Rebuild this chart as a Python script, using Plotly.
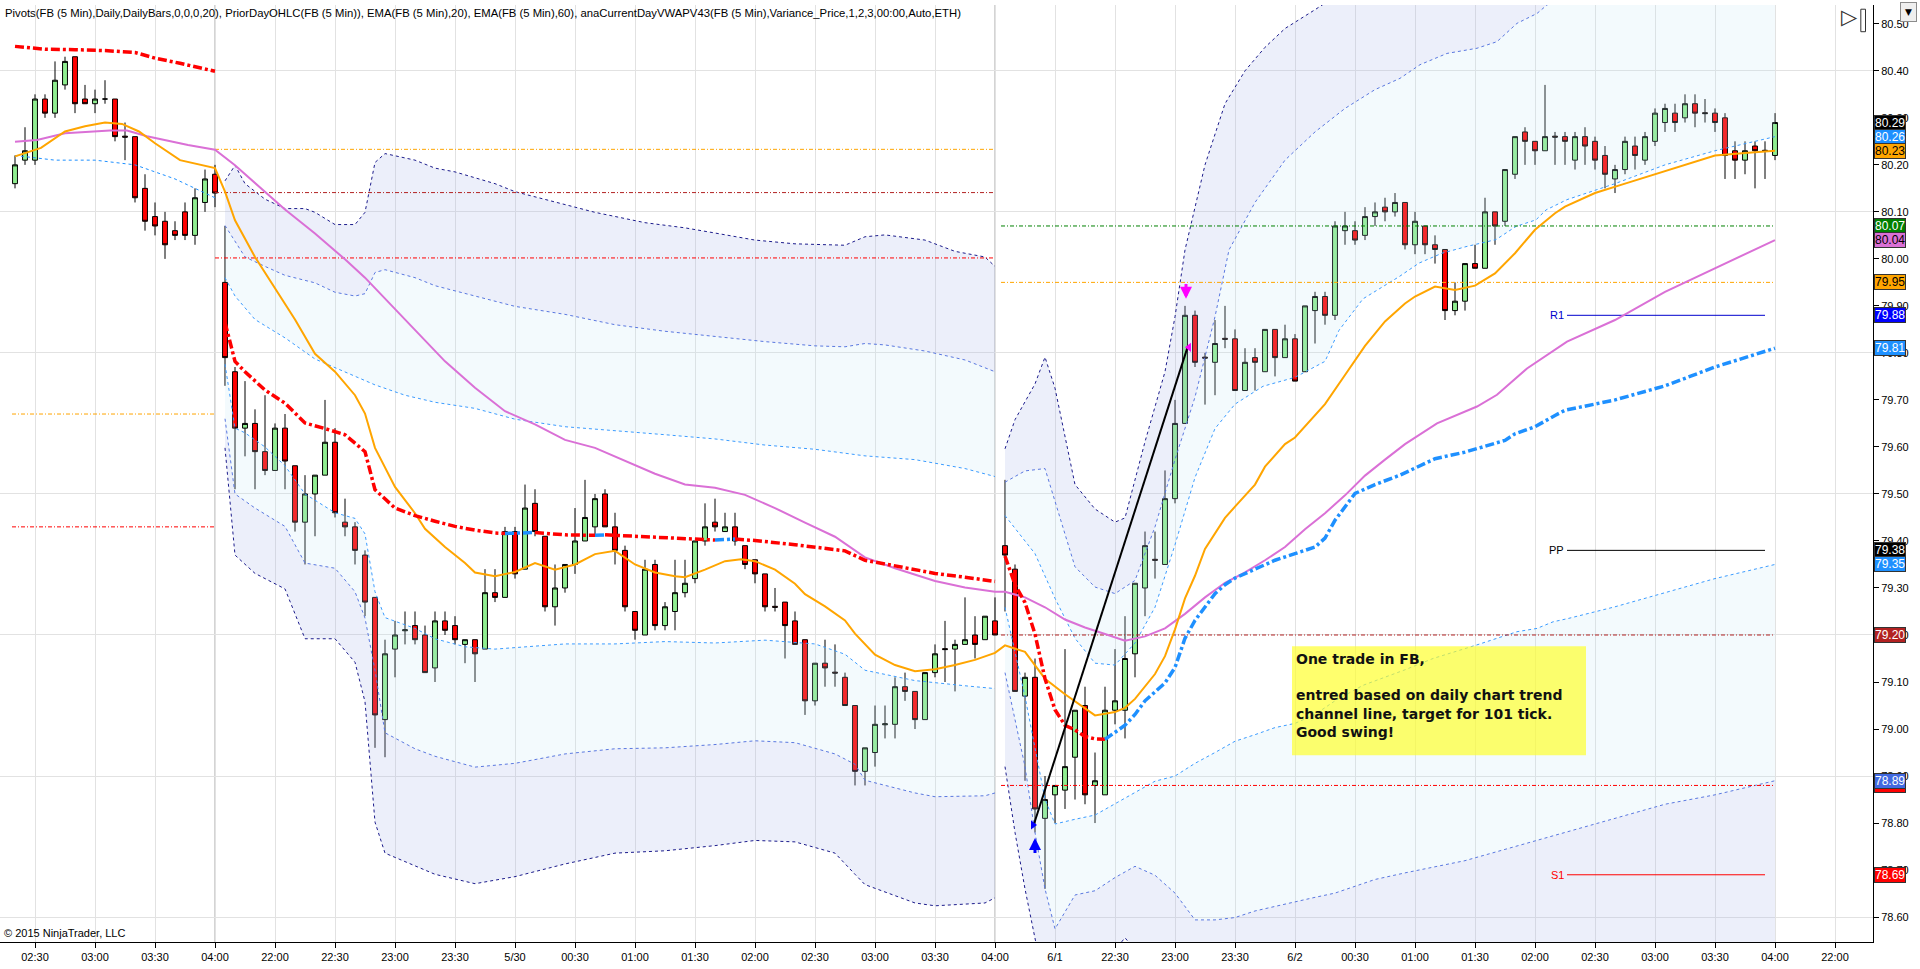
import plotly.graph_objects as go

# ---------------- 5 min bars of FB (bar number on the x axis) ----------------
bar_no = list(range(177))
opens = [
    80.16, 80.21, 80.21, 80.34, 80.31, 80.37, 80.43, 80.34, 80.33, 80.34, 80.34, 80.261, 80.26, 80.15, 80.09, 80.08, 80.06, 80.10, 80.05, 80.12, 80.18,
    79.95, 79.76, 79.64, 79.65, 79.59, 79.55, 79.64, 79.56, 79.44, 79.50, 79.54, 79.61, 79.44, 79.43, 79.37, 79.28, 79.02, 79.17, 79.209, 79.22,
    79.20, 79.13, 79.23, 79.22, 79.18, 79.19, 79.17, 79.29, 79.28, 79.42, 79.34, 79.48, 79.41, 79.26, 79.30, 79.35, 79.40, 79.43, 79.50, 79.43,
    79.38, 79.25, 79.20, 79.35, 79.22, 79.25, 79.29, 79.32, 79.40, 79.44, 79.42, 79.43, 79.39, 79.36, 79.33, 79.261, 79.27, 79.23, 79.19, 79.06,
    79.14, 79.121, 79.11, 79.05, 78.91, 78.95, 79.009, 79.01, 79.09, 79.08, 79.02, 79.12, 79.171, 79.17, 79.18, 79.20, 79.19, 79.23,
    79.39, 79.34, 79.07, 79.11, 78.81, 78.86, 78.87, 78.94, 79.05, 78.88, 78.86, 79.04, 79.04, 79.16, 79.30, 79.361, 79.35, 79.49, 79.65, 79.88,
    79.791, 79.78, 79.831, 79.83, 79.72, 79.79, 79.76, 79.85, 79.79, 79.83, 79.76, 79.89, 79.92, 79.88, 80.06, 80.06, 80.05, 80.09, 80.11, 80.10,
    80.12, 80.03, 80.07, 80.03, 80.02, 79.89, 79.91, 79.99, 79.98, 80.10, 80.08, 80.18, 80.27, 80.25, 80.23, 80.261, 80.26,
    80.21, 80.26, 80.25, 80.22, 80.17, 80.19, 80.24, 80.21, 80.25, 80.29, 80.31, 80.30, 80.33, 80.311, 80.31, 80.30, 80.23, 80.21, 80.24, 80.231, 80.22,
]
highs = [
    80.22, 80.28, 80.35, 80.35, 80.42, 80.43, 80.43, 80.37, 80.36, 80.38, 80.34, 80.29, 80.26, 80.18, 80.12, 80.10, 80.08, 80.12, 80.15, 80.19, 80.20,
    80.07, 79.77, 79.74, 79.68, 79.71, 79.65, 79.67, 79.56, 79.54, 79.54, 79.70, 79.64, 79.49, 79.44, 79.38, 79.28, 79.19, 79.23, 79.25, 79.25,
    79.22, 79.25, 79.25, 79.24, 79.19, 79.19, 79.34, 79.34, 79.43, 79.43, 79.52, 79.51, 79.41, 79.35, 79.35, 79.47, 79.53, 79.50, 79.51, 79.46,
    79.39, 79.25, 79.36, 79.36, 79.27, 79.36, 79.36, 79.40, 79.48, 79.49, 79.46, 79.46, 79.39, 79.36, 79.33, 79.30, 79.27, 79.25, 79.19, 79.14,
    79.19, 79.18, 79.12, 79.05, 78.96, 79.05, 79.05, 79.11, 79.12, 79.08, 79.12, 79.18, 79.23, 79.19, 79.28, 79.24, 79.24, 79.28,
    79.53, 79.35, 79.12, 79.15, 78.90, 78.88, 79.17, 79.04, 79.09, 78.95, 79.09, 79.17, 79.24, 79.31, 79.42, 79.42, 79.55, 79.70, 79.90, 79.89,
    79.80, 79.87, 79.90, 79.85, 79.81, 79.81, 79.85, 79.85, 79.86, 79.84, 79.90, 79.93, 79.93, 80.08, 80.10, 80.08, 80.11, 80.12, 80.13, 80.14,
    80.12, 80.10, 80.07, 80.05, 80.02, 79.95, 79.99, 80.03, 80.13, 80.10, 80.19, 80.26, 80.28, 80.25, 80.37, 80.27, 80.27,
    80.27, 80.28, 80.26, 80.24, 80.20, 80.26, 80.26, 80.27, 80.32, 80.33, 80.33, 80.35, 80.35, 80.34, 80.32, 80.31, 80.25, 80.25, 80.25, 80.25, 80.31,
]
lows = [
    80.15, 80.20, 80.20, 80.30, 80.30, 80.36, 80.31, 80.33, 80.31, 80.33, 80.25, 80.21, 80.12, 80.06, 80.05, 80.00, 80.04, 80.04, 80.03, 80.10, 80.11,
    79.73, 79.51, 79.58, 79.51, 79.54, 79.55, 79.51, 79.42, 79.35, 79.41, 79.54, 79.45, 79.41, 79.35, 79.24, 78.96, 78.94, 79.11, 79.18, 79.18,
    79.12, 79.10, 79.20, 79.18, 79.14, 79.10, 79.17, 79.27, 79.28, 79.32, 79.34, 79.41, 79.25, 79.22, 79.29, 79.33, 79.40, 79.41, 79.43, 79.35,
    79.25, 79.19, 79.20, 79.21, 79.21, 79.21, 79.28, 79.31, 79.39, 79.42, 79.42, 79.39, 79.34, 79.31, 79.25, 79.25, 79.15, 79.18, 79.03, 79.05,
    79.09, 79.09, 79.05, 78.88, 78.88, 78.92, 78.98, 78.98, 79.06, 79.00, 79.02, 79.11, 79.10, 79.08, 79.18, 79.15, 79.19, 79.20,
    79.25, 79.08, 78.89, 78.78, 78.66, 78.80, 78.83, 78.85, 78.84, 78.80, 78.86, 79.01, 78.98, 79.11, 79.24, 79.32, 79.35, 79.48, 79.65, 79.77,
    79.69, 79.71, 79.81, 79.72, 79.72, 79.72, 79.76, 79.75, 79.79, 79.74, 79.76, 79.82, 79.86, 79.87, 80.03, 80.03, 80.04, 80.07, 80.08, 80.09,
    80.02, 80.01, 80.01, 79.99, 79.87, 79.88, 79.89, 79.98, 79.98, 80.03, 80.07, 80.17, 80.20, 80.20, 80.23, 80.20, 80.20,
    80.19, 80.20, 80.19, 80.15, 80.14, 80.18, 80.19, 80.20, 80.24, 80.27, 80.27, 80.29, 80.28, 80.29, 80.27, 80.17, 80.17, 80.18, 80.15, 80.17, 80.21,
]
closes = [
    80.20, 80.23, 80.34, 80.31, 80.38, 80.42, 80.33, 80.33, 80.34, 80.34, 80.26, 80.259, 80.13, 80.08, 80.07, 80.03, 80.05, 80.05, 80.13, 80.17, 80.14,
    79.79, 79.64, 79.65, 79.59, 79.55, 79.64, 79.57, 79.44, 79.50, 79.54, 79.61, 79.46, 79.43, 79.38, 79.27, 79.03, 79.16, 79.20, 79.211, 79.19,
    79.12, 79.23, 79.21, 79.19, 79.19, 79.16, 79.29, 79.28, 79.42, 79.33, 79.47, 79.42, 79.26, 79.30, 79.35, 79.40, 79.45, 79.49, 79.43, 79.38,
    79.26, 79.21, 79.34, 79.22, 79.26, 79.29, 79.31, 79.40, 79.43, 79.43, 79.43, 79.40, 79.35, 79.33, 79.26, 79.259, 79.22, 79.18, 79.06, 79.14,
    79.13, 79.119, 79.05, 78.91, 78.96, 79.01, 79.011, 79.09, 79.08, 79.02, 79.12, 79.16, 79.169, 79.18, 79.19, 79.18, 79.24, 79.20,
    79.37, 79.08, 79.11, 78.83, 78.85, 78.88, 78.92, 79.04, 78.86, 78.89, 79.04, 79.06, 79.15, 79.31, 79.39, 79.359, 79.49, 79.65, 79.88, 79.78,
    79.789, 79.82, 79.829, 79.72, 79.78, 79.78, 79.85, 79.79, 79.83, 79.74, 79.90, 79.92, 79.88, 80.07, 80.07, 80.04, 80.09, 80.10, 80.10, 80.12,
    80.03, 80.08, 80.03, 80.02, 79.89, 79.91, 79.99, 79.98, 80.10, 80.07, 80.19, 80.26, 80.25, 80.23, 80.26, 80.259, 80.25,
    80.26, 80.24, 80.21, 80.18, 80.19, 80.25, 80.22, 80.26, 80.31, 80.32, 80.29, 80.33, 80.31, 80.309, 80.29, 80.22, 80.21, 80.23, 80.23, 80.229, 80.29,
]

# ---------------- time axis ----------------
tick_bars = [2, 8, 14, 20, 26, 32, 38, 44, 50, 56, 62, 68, 74, 80, 86, 92, 98, 104, 110, 116, 122, 128, 134, 140, 146, 152, 158, 164, 170, 176, 182]
tick_text = ["02:30", "03:00", "03:30", "04:00", "22:00", "22:30", "23:00", "23:30", "5/30", "00:30", "01:00", "01:30", "02:00", "02:30", "03:00",
             "03:30", "04:00", "6/1", "22:30", "23:00", "23:30", "6/2", "00:30", "01:00", "01:30", "02:00", "02:30", "03:00", "03:30", "04:00", "22:00"]
session_breaks = [20, 98]

# ---------------- EMA(20) and EMA(60) ----------------
ema20_x = [0, 2.6, 5, 7, 9, 10.7, 12.4, 14, 16.5, 20, 21, 22, 24, 26, 28, 30, 32, 34, 35, 36, 38, 40, 41, 43, 45, 46, 48, 50, 52, 54, 56, 58, 60, 62,
           64, 66, 67, 69, 71, 72.6, 74, 76, 78, 79, 81, 83, 84, 86, 88, 90, 92, 94, 96, 98, 99, 101, 103, 105, 107, 108, 110, 111, 112, 114, 115,
           116, 117, 118, 119, 121, 122, 124, 125, 127, 128, 130, 131, 133, 135, 137, 139, 140, 142, 144, 146, 148, 150, 152, 154, 155, 158, 161,
           164, 167, 170, 173, 176]
ema20_y = [80.218, 80.236, 80.271, 80.282, 80.290, 80.287, 80.271, 80.246, 80.210, 80.193, 80.143, 80.082, 80.004, 79.938, 79.871, 79.798, 79.760,
           79.710, 79.671, 79.598, 79.515, 79.459, 79.426, 79.387, 79.353, 79.333, 79.325, 79.334, 79.353, 79.339, 79.350, 79.372, 79.379, 79.350,
           79.333, 79.325, 79.323, 79.339, 79.357, 79.361, 79.357, 79.339, 79.309, 79.287, 79.261, 79.231, 79.203, 79.158, 79.136, 79.123, 79.127,
           79.136, 79.147, 79.162, 79.178, 79.164, 79.107, 79.074, 79.045, 79.029, 79.036, 79.045, 79.064, 79.117, 79.155, 79.212, 79.278, 79.326,
           79.383, 79.449, 79.473, 79.520, 79.558, 79.606, 79.620, 79.668, 79.691, 79.753, 79.815, 79.867, 79.905, 79.920, 79.941, 79.934, 79.943,
           79.969, 80.012, 80.062, 80.097, 80.111, 80.14, 80.16, 80.18, 80.20, 80.22, 80.225, 80.23]
ema60_x = [0, 2.2, 5, 9.5, 11.2, 13.2, 17.3, 20, 22, 25, 27, 30, 33, 35, 37, 40, 43, 46, 49, 52, 55, 58, 61, 64, 67, 70, 73, 76, 79, 82, 85, 88, 92,
           95, 98, 99, 101, 103, 105, 107, 109, 111, 113, 115, 117, 119, 121, 123, 125, 127, 129, 131, 133, 135, 137, 139, 142.2, 146.2, 148.2,
           151.2, 155.2, 160, 165, 170, 176]
ema60_y = [80.249, 80.253, 80.267, 80.273, 80.273, 80.261, 80.242, 80.232, 80.199, 80.143, 80.105, 80.054, 79.999, 79.960, 79.915, 79.849, 79.782,
           79.726, 79.676, 79.648, 79.615, 79.598, 79.570, 79.543, 79.520, 79.513, 79.498, 79.470, 79.439, 79.409, 79.365, 79.342, 79.315, 79.301,
           79.292, 79.292, 79.280, 79.259, 79.233, 79.216, 79.202, 79.188, 79.197, 79.214, 79.245, 79.280, 79.311, 79.333, 79.359, 79.387, 79.425,
           79.459, 79.497, 79.539, 79.573, 79.606, 79.650, 79.686, 79.711, 79.767, 79.824, 79.87, 79.93, 79.98, 80.04]

# ---------------- current day VWAP, one list per session ----------------
vwap1_x = [0, 3, 6, 9, 12, 14, 16.5, 19, 20]
vwap1_y = [80.452, 80.446, 80.445, 80.443, 80.439, 80.427, 80.416, 80.405, 80.399]
vwap2_x = [21, 22, 23, 25, 27, 29, 31, 33, 35, 36, 38, 40, 42, 44, 46, 48, 49, 52, 53, 55, 58, 59, 60, 63, 68, 70, 72, 74, 78, 83, 85, 89, 92, 95, 98]
vwap2_y = [79.865, 79.782, 79.760, 79.721, 79.693, 79.651, 79.639, 79.626, 79.590, 79.509, 79.470, 79.454, 79.442, 79.431, 79.423, 79.417, 79.416,
           79.418, 79.416, 79.413, 79.412, 79.413, 79.412, 79.409, 79.403, 79.402, 79.404, 79.401, 79.392, 79.379, 79.359, 79.342, 79.331, 79.323,
           79.314]
vwap3_x = [99, 100, 101, 102, 103, 104, 105, 106, 107, 108, 109, 110, 111, 112, 113, 114, 115, 116, 117, 118, 119, 120, 121, 122, 124, 126, 128, 130,
           131, 132, 134, 136, 138.5, 142, 145, 149, 150, 152, 154, 155, 160, 165, 170, 176]
vwap3_y = [79.368, 79.307, 79.269, 79.202, 79.107, 79.041, 79.008, 78.998, 78.984, 78.979, 78.978, 78.993, 79.008, 79.031, 79.060, 79.079, 79.098,
           79.131, 79.193, 79.231, 79.259, 79.288, 79.307, 79.321, 79.340, 79.359, 79.373, 79.387, 79.406, 79.444, 79.501, 79.520, 79.540, 79.575,
           79.589, 79.614, 79.628, 79.643, 79.667, 79.678, 79.70, 79.73, 79.77, 79.81]

# ---------------- VWAP deviation bands ----------------
s1_lo1_x = [0, 4, 8, 12, 16, 20]
s1_lo1_y = [80.22, 80.21, 80.21, 80.20, 80.17, 80.13]

s2_up3_x = [21, 22, 23, 25, 27, 29, 30, 32, 34, 35, 36, 37, 40, 42, 44, 48, 50, 54, 58, 63, 67, 70, 74, 78, 83, 85, 87, 91, 94, 97, 98]
s2_up3_y = [80.166, 80.199, 80.160, 80.127, 80.107, 80.107, 80.099, 80.073, 80.073, 80.099, 80.205, 80.224, 80.210, 80.193, 80.185, 80.160, 80.143,
            80.121, 80.099, 80.077, 80.066, 80.055, 80.040, 80.032, 80.029, 80.047, 80.051, 80.040, 80.016, 80.004, 79.984]
s2_up2_x = [21, 23, 25, 27, 30, 32, 34, 35, 36, 37, 40, 42, 46, 50, 55, 60, 65, 70, 75, 80, 83, 85, 87, 91, 95, 98]
s2_up2_y = [80.071, 80.004, 79.984, 79.965, 79.949, 79.929, 79.921, 79.926, 79.971, 79.977, 79.960, 79.943, 79.921, 79.899, 79.882, 79.860, 79.846,
            79.835, 79.824, 79.815, 79.813, 79.820, 79.817, 79.804, 79.785, 79.760]
s2_up1_x = [21, 22, 24, 27, 30, 33, 36, 39, 42, 46, 50, 55, 60, 65, 70, 75, 80, 85, 90, 95, 98]
s2_up1_y = [79.960, 79.921, 79.871, 79.832, 79.787, 79.760, 79.732, 79.710, 79.695, 79.682, 79.659, 79.643, 79.635, 79.626, 79.617, 79.604, 79.595,
            79.581, 79.573, 79.554, 79.537]
s2_lo1_x = [21, 22, 23, 25, 27, 29, 32, 34, 35, 36, 37, 40, 42, 45, 48, 55, 60, 65, 70, 75, 80, 83, 85, 90, 95, 98]
s2_lo1_y = [79.776, 79.64, 79.63, 79.60, 79.56, 79.50, 79.46, 79.448, 79.415, 79.292, 79.237, 79.214, 79.192, 79.175, 79.170, 79.181, 79.181, 79.186,
            79.183, 79.189, 79.181, 79.159, 79.125, 79.103, 79.092, 79.086]
s2_lo2_x = [21, 22, 24, 27, 29, 32, 34, 35, 36, 37, 40, 42, 46, 50, 55, 60, 65, 70, 74, 78, 82, 84, 85, 90, 92, 97, 98]
s2_lo2_y = [79.66, 79.50, 79.47, 79.431, 79.353, 79.342, 79.292, 79.236, 79.125, 78.992, 78.958, 78.942, 78.919, 78.927, 78.947, 78.958, 78.960,
            78.967, 78.975, 78.971, 78.947, 78.925, 78.891, 78.864, 78.856, 78.858, 78.864]
s2_lo3_x = [21, 22, 24, 27, 29, 32, 34, 35, 36, 37, 42, 46, 50, 55, 60, 65, 70, 74, 78, 82, 84, 85, 90, 92, 97, 98]
s2_lo3_y = [79.598, 79.370, 79.331, 79.298, 79.192, 79.192, 79.142, 79.058, 78.802, 78.736, 78.691, 78.671, 78.686, 78.713, 78.736, 78.741, 78.752,
            78.763, 78.760, 78.736, 78.691, 78.669, 78.630, 78.624, 78.630, 78.641]

s3_up3_x = [99, 100, 102, 103, 104, 106, 108, 110, 111, 113, 115, 116, 117, 119, 121, 123, 125, 127, 130, 135, 176]
s3_up3_y = [79.596, 79.658, 79.734, 79.791, 79.725, 79.520, 79.468, 79.440, 79.449, 79.611, 79.760, 79.877, 80.019, 80.20, 80.33, 80.40, 80.45, 80.49,
            80.53, 80.60, 80.90]
s3_up2_x = [99, 101, 103, 106, 108, 110, 112, 114, 116, 118, 120, 121.4, 124, 127, 130, 133, 136, 138.5, 140.5, 143.2, 146.2, 148.2, 150.2, 152.2,
            153.2, 160, 176]
s3_up2_y = [79.525, 79.549, 79.554, 79.345, 79.302, 79.288, 79.316, 79.430, 79.573, 79.706, 79.877, 80.019, 80.12, 80.21, 80.27, 80.32, 80.36, 80.384,
            80.413, 80.437, 80.448, 80.462, 80.501, 80.522, 80.540, 80.62, 80.75]
s3_up1_x = [99, 102, 104, 106, 108, 110, 112, 114, 116, 118, 120, 122, 124.8, 128, 131, 132.4, 134.8, 138.4, 140.4, 142.7, 145.1, 148.1, 150.1, 152.1,
            153.1, 155.2, 160, 165, 170, 176]
s3_up1_y = [79.454, 79.373, 79.278, 79.193, 79.140, 79.136, 79.183, 79.259, 79.392, 79.535, 79.639, 79.691, 79.729, 79.748, 79.782, 79.848, 79.915,
            79.962, 79.991, 80.012, 80.026, 80.041, 80.069, 80.083, 80.104, 80.126, 80.16, 80.20, 80.23, 80.26]
s3_lo1_x = [99, 101, 103, 104, 106, 108, 110, 112, 114, 116, 118, 120, 122, 124, 126, 128, 130, 132, 134.8, 139, 141.8, 146.2, 150.2, 152.2, 153.8,
            155.3, 160, 165, 170, 176]
s3_lo1_y = [79.259, 79.069, 78.851, 78.798, 78.808, 78.817, 78.841, 78.865, 78.889, 78.900, 78.927, 78.950, 78.974, 78.988, 79.003, 79.012, 79.031,
            79.060, 79.093, 79.126, 79.150, 79.179, 79.207, 79.214, 79.228, 79.235, 79.26, 79.29, 79.32, 79.35]
s3_lo2_x = [99, 101, 102, 103, 104, 106, 108, 110, 112, 114, 116, 118, 120, 122, 124, 126, 128, 130, 132, 134, 136, 139, 145, 150, 155, 160, 165,
            170, 176]
s3_lo2_y = [79.12, 78.92, 78.78, 78.66, 78.575, 78.647, 78.656, 78.684, 78.708, 78.689, 78.651, 78.594, 78.594, 78.599, 78.613, 78.623, 78.632,
            78.642, 78.651, 78.666, 78.680, 78.694, 78.72, 78.75, 78.78, 78.81, 78.84, 78.86, 78.89]
s3_lo3_x = [99, 100, 101, 102, 103, 105, 108, 110, 111, 112, 114, 116, 120, 130, 176]
s3_lo3_y = [78.92, 78.78, 78.66, 78.55, 78.45, 78.38, 78.47, 78.53, 78.556, 78.53, 78.45, 78.35, 78.25, 78.25, 78.40]

# ---------------- prior day OHLC levels, per session ----------------
sess_from = [-0.3, 20, 98.6]
sess_to = [20, 98, 176]
prior_open = [79.67, 80.233, 79.95]
prior_close = [None, 80.141, 79.20]
prior_low = [79.43, 80.002, 78.88]
prior_high = [None, None, 80.07]

# ---------------- daily pivots ----------------
pivot_names = ["R1", "PP", "S1"]
pivot_values = [79.88, 79.38, 78.69]
pivot_from = 155.2
pivot_to = 175

# ---------------- the trade ----------------
trend_x = [101.9, 117.3]
trend_y = [78.798, 79.815]
entry_bar, entry_price = 101.8, 78.796
exit_bar, exit_price = 117.4, 79.812

# ---------------- price markers on the right axis ----------------
tag_values = [80.29, 80.26, 80.23, 80.07, 80.04, 79.95, 79.88, 79.81, 79.38, 79.35, 79.20, 78.88, 78.89, 78.69]
tag_colors = ["#000000", "#1e90ff", "#ffa500", "#008000", "#da70d6", "#ffa500", "#0000ff", "#1e90ff", "#000000", "#1e90ff", "#b22222", "#ff0000",
              "#4169e1", "#ff0000"]
tag_text = ["white", "white", "black", "white", "black", "black", "white", "white", "white", "white", "white", "white", "white", "white"]

Y_RANGE = [78.547, 80.540]
X_RANGE = [-1.5, 185.8]
LAVENDER = "rgba(170,182,232,0.22)"
ICE = "rgba(190,230,242,0.18)"
FONT = "Liberation Sans"

fig = go.Figure()


def add_line(x, y, color, width=1, dash=None):
    fig.add_trace(go.Scatter(x=x, y=y, mode="lines", line=dict(color=color, width=width, dash=dash),
                             hoverinfo="skip", showlegend=False))


def add_band(xa, ya, xb, yb, color):
    fig.add_trace(go.Scatter(x=list(xa) + list(xb)[::-1], y=list(ya) + list(yb)[::-1], mode="lines", fill="toself",
                             fillcolor=color, line=dict(width=0), hoverinfo="skip", showlegend=False))


def add_vwap(x, y):
    # NinjaTrader colours the VWAP by slope: red falling, blue rising
    runs = []
    for i in range(1, len(x)):
        up = y[i] > y[i - 1]
        if runs and runs[-1][0] == up:
            runs[-1][1].append(x[i])
            runs[-1][2].append(y[i])
        else:
            runs.append([up, [x[i - 1], x[i]], [y[i - 1], y[i]]])
    for up, xs, ys in runs:
        add_line(xs, ys, "#1e90ff" if up else "#ff0000", 3.5, "9px,3px,3px,3px")


# bands fill
add_band(s2_up3_x, s2_up3_y, s2_up2_x, s2_up2_y, LAVENDER)
add_band(s2_up2_x, s2_up2_y, s2_up1_x, s2_up1_y, ICE)
add_band(s2_lo1_x, s2_lo1_y, s2_lo2_x, s2_lo2_y, ICE)
add_band(s2_lo2_x, s2_lo2_y, s2_lo3_x, s2_lo3_y, LAVENDER)
add_band(s3_up3_x, s3_up3_y, s3_up2_x, s3_up2_y, LAVENDER)
add_band(s3_up2_x, s3_up2_y, s3_up1_x, s3_up1_y, ICE)
add_band(s3_lo1_x, s3_lo1_y, s3_lo2_x, s3_lo2_y, ICE)
add_band(s3_lo2_x, s3_lo2_y, s3_lo3_x, s3_lo3_y, LAVENDER)

# band lines
add_line(s1_lo1_x, s1_lo1_y, "#1e90ff", 1, "dot")
for xs, ys in [(s2_up1_x, s2_up1_y), (s2_lo1_x, s2_lo1_y), (s3_up1_x, s3_up1_y), (s3_lo1_x, s3_lo1_y)]:
    add_line(xs, ys, "#3c9cff", 1, "dot")
for xs, ys in [(s2_up2_x, s2_up2_y), (s2_lo2_x, s2_lo2_y), (s3_up2_x, s3_up2_y), (s3_lo2_x, s3_lo2_y)]:
    add_line(xs, ys, "#5a78e0", 1, "dot")
for xs, ys in [(s2_up3_x, s2_up3_y), (s2_lo3_x, s2_lo3_y), (s3_up3_x, s3_up3_y), (s3_lo3_x, s3_lo3_y)]:
    add_line(xs, ys, "#1c1c8c", 1, "dot")

# prior day levels
for i in range(len(sess_from)):
    for level, color in [(prior_open, "#ffa500"), (prior_close, "#b22222"), (prior_low, "#ff0000"), (prior_high, "#008000")]:
        if level[i] is not None:
            add_line([sess_from[i], sess_to[i]], [level[i], level[i]], color, 1, "4px,2px,1px,2px")

# pivots
for name, val, color in zip(pivot_names, pivot_values, ["#0000cd", "#000000", "#ff0000"]):
    add_line([pivot_from, pivot_to], [val, val], color, 1)
    fig.add_annotation(x=pivot_from, y=val, text=name, showarrow=False, xanchor="right", xshift=-1,
                       font=dict(family=FONT, size=11, color=color))

# moving averages
add_line(ema60_x, ema60_y, "#da70d6", 2)
add_line(ema20_x, ema20_y, "#ffa500", 2)
add_vwap(vwap1_x, vwap1_y)
add_vwap(vwap2_x, vwap2_y)
add_vwap(vwap3_x, vwap3_y)

# candles
fig.add_trace(go.Candlestick(
    x=bar_no, open=opens, high=highs, low=lows, close=closes,
    increasing=dict(fillcolor="#90ee90", line=dict(color="black", width=1)),
    decreasing=dict(fillcolor="#ff0000", line=dict(color="black", width=1)),
    whiskerwidth=0, showlegend=False, hoverinfo="skip"))

# trade drawing
add_line(trend_x, trend_y, "black", 2)
fig.add_trace(go.Scatter(x=[entry_bar], y=[entry_price], mode="markers", showlegend=False, hoverinfo="skip",
                         marker=dict(symbol="triangle-right", size=8, color="#0000ff")))
fig.add_trace(go.Scatter(x=[exit_bar], y=[exit_price], mode="markers", showlegend=False, hoverinfo="skip",
                         marker=dict(symbol="triangle-left", size=8, color="#ff00ff")))
fig.add_annotation(x=102, y=78.768, ax=102, ay=78.733, xref="x", yref="y", axref="x", ayref="y", text="", showarrow=True,
                   arrowhead=2, arrowsize=0.8, arrowwidth=3, arrowcolor="#0000ff")
fig.add_annotation(x=117.1, y=79.915, ax=117.1, ay=79.950, xref="x", yref="y", axref="x", ayref="y", text="", showarrow=True,
                   arrowhead=2, arrowsize=0.8, arrowwidth=3, arrowcolor="#ff00ff")

# grid overlay axis (every 0.30) – invisible trace keeps it alive
fig.add_trace(go.Scatter(x=[0], y=[80], yaxis="y2", mode="markers", marker=dict(opacity=0), hoverinfo="skip", showlegend=False))

# session separators
for b in session_breaks:
    fig.add_shape(type="line", x0=b, x1=b, y0=0, y1=1, xref="x", yref="paper", layer="below",
                  line=dict(color="#a8a8a8", width=1))

# comment box
fig.add_shape(type="rect", x0=127.7, x1=157.1, y0=78.944, y1=79.176, xref="x", yref="y",
              fillcolor="rgba(255,255,40,0.68)", line=dict(width=0))
fig.add_annotation(x=127.9, y=79.170, xref="x", yref="y", xanchor="left", yanchor="top", align="left", showarrow=False,
                   text="<b>One trade in FB,<br><br>entred based on daily chart trend<br>channel line, target for 101 tick.<br>Good swing!</b>",
                   font=dict(family="DejaVu Sans", size=14, color="#111111"))

# right axis price tags
for v, c, tc in zip(tag_values, tag_colors, tag_text):
    fig.add_annotation(x=1, y=v, xref="paper", yref="y", xanchor="left", xshift=1, showarrow=False,
                       text="%.2f" % v, bgcolor=c, bordercolor="#333333", borderwidth=1, borderpad=0,
                       font=dict(family=FONT, size=12, color=tc))

# header, copyright, buttons
fig.add_annotation(x=0, y=1, xref="paper", yref="paper", xanchor="left", yanchor="top", xshift=3, yshift=0, showarrow=False,
                   text="Pivots(FB (5 Min),Daily,DailyBars,0,0,0,20), PriorDayOHLC(FB (5 Min)), EMA(FB (5 Min),20), EMA(FB (5 Min),60), "
                        "anaCurrentDayVWAPV43(FB (5 Min),Variance_Price,1,2,3,00:00,Auto,ETH)",
                   font=dict(family=FONT, size=11.3, color="black"))
fig.add_annotation(x=0, y=0, xref="paper", yref="paper", xanchor="left", yanchor="bottom", xshift=2, yshift=1, showarrow=False,
                   text="© 2015 NinjaTrader, LLC", font=dict(family=FONT, size=11, color="black"))
fig.add_annotation(x=0.9877, y=1, xref="paper", yref="paper", xanchor="center", yanchor="top", yshift=2, showarrow=False, text="▷",
                   font=dict(family="DejaVu Sans", size=21, color="#333333"))
fig.add_shape(type="rect", x0=0.99350, x1=0.99600, y0=0.9715, y1=0.9955, xref="paper", yref="paper",
              fillcolor="white", line=dict(color="#333333", width=1))
fig.add_annotation(x=1.0187, y=1, xref="paper", yref="paper", xanchor="center", yanchor="top", yshift=3, showarrow=False,
                   text="▼", bgcolor="#efefef", bordercolor="#8c8c8c", borderwidth=1, borderpad=4,
                   font=dict(family="DejaVu Sans", size=9, color="black"))

fig.update_layout(
    width=1920, height=969,
    margin=dict(l=0, r=47, t=5, b=27, autoexpand=False),
    paper_bgcolor="white", plot_bgcolor="white",
    showlegend=False, hovermode=False,
    xaxis=dict(range=X_RANGE, tickvals=tick_bars, ticktext=tick_text, showgrid=True, gridcolor="#e2e2e2", gridwidth=1,
               zeroline=False, showline=True, linecolor="black", linewidth=1, ticks="outside", ticklen=5, tickcolor="black",
               tickfont=dict(family=FONT, size=11, color="black"), rangeslider=dict(visible=False)),
    yaxis=dict(range=Y_RANGE, side="right", dtick=0.1, tick0=78.6, tickformat=".2f", showgrid=False, zeroline=False,
               showline=True, linecolor="black", linewidth=1, ticks="outside", ticklen=5, tickcolor="black",
               tickfont=dict(family=FONT, size=11, color="black")),
    yaxis2=dict(range=Y_RANGE, overlaying="y", side="right", dtick=0.3, tick0=78.6, showgrid=True, gridcolor="#e2e2e2",
                showticklabels=False, ticks="", zeroline=False, showline=False),
)

# the page body has an 8px default margin; drop it so the chart fills the window
fig.write_html("out.html", config={"displayModeBar": False},
               post_script="document.body.style.margin='0px';document.body.style.overflow='hidden';")
